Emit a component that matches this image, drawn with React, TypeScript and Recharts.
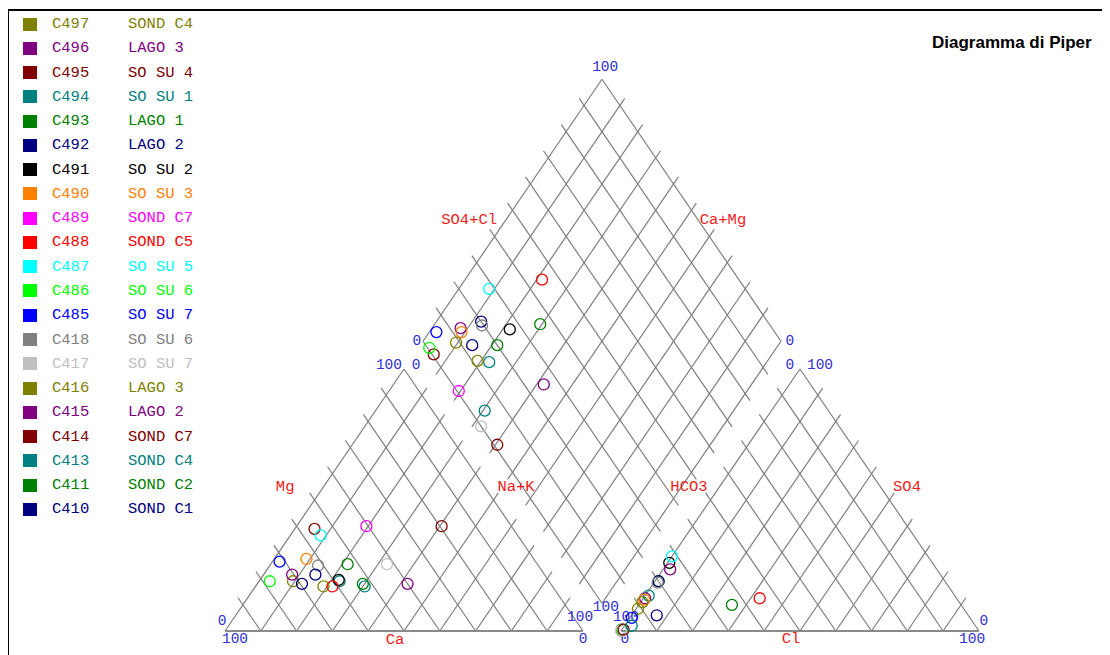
import React from "react";
import { ScatterChart, Scatter, XAxis, YAxis, ReferenceLine } from "recharts";

const samples = ["C497", "C496", "C495", "C494", "C493", "C492", "C491", "C490", "C489", "C488", "C487", "C486", "C485", "C418", "C417", "C416", "C415", "C414", "C413", "C411", "C410"];
const sites = ["SOND C4", "LAGO 3", "SO SU 4", "SO SU 1", "LAGO 1", "LAGO 2", "SO SU 2", "SO SU 3", "SOND C7", "SOND C5", "SO SU 5", "SO SU 6", "SO SU 7", "SO SU 6", "SO SU 7", "LAGO 3", "LAGO 2", "SOND C7", "SOND C4", "SOND C2", "SOND C1"];
const colors = ["#808000", "#800080", "#800000", "#008080", "#008000", "#000080", "#000000", "#ff8000", "#ff00ff", "#ff0000", "#00ffff", "#00ff00", "#0000ff", "#808080", "#c0c0c0", "#808000", "#800080", "#800000", "#008080", "#008000", "#000080"];

// cations (% meq)
const ca = [71.5, 70.5, 55.5, 58.5, 53, 69.5, 58.5, 63.5, 40.5, 61.5, 55, 78, 71.5, 61.5, 42, 64, 40, 19.5, 52.5, 52.5, 64];
const mg = [19, 21.5, 39, 19, 25.5, 18, 19.5, 27.5, 40, 17, 36.5, 19, 26.5, 25, 25.5, 17, 18, 40, 17, 18, 21.5];
const nak = [9.5, 8, 5.5, 22.5, 21.5, 12.5, 22, 9, 19.5, 21.5, 8.5, 3, 2, 13.5, 32.5, 19, 42, 40.5, 30.5, 29.5, 14.5];
// anions (% meq)
const hco3 = [91, 87, 99.5, 85.5, 80, 80, 73.5, 87.5, 99.5, 55, 71.5, 99.5, 94.5, 80.5, 100, 88.5, 74.5, 99, 96, 64, 87];
const so4 = [8.5, 12.5, 0.5, 13.5, 19, 19, 26, 12, 0.5, 12.5, 28.5, 0.5, 5, 18.5, 0, 11, 23.5, 0.5, 2, 10, 6];
const cl = [0.5, 0.5, 0, 1, 1, 1, 0.5, 0.5, 0, 32.5, 0, 0, 0.5, 1, 0, 0.5, 2, 0.5, 2, 26, 7];

type Pt = { x: number; y: number };

// plot geometry: triangle side 100, gap between the two triangles
const SIDE = 100;
const TH = (SIDE * Math.sqrt(3)) / 2;
const GAP = 10.6;
const X2 = SIDE + GAP;
const BOT: Pt = { x: SIDE + GAP / 2, y: (GAP / 2) * Math.sqrt(3) };
const U: Pt = { x: -SIDE / 2, y: TH };
const V: Pt = { x: SIDE / 2, y: TH };
const LEFT: Pt = { x: BOT.x + U.x, y: BOT.y + U.y };
const TOP: Pt = { x: BOT.x + U.x + V.x, y: BOT.y + U.y + V.y };
const RIGHT: Pt = { x: BOT.x + V.x, y: BOT.y + V.y };

const X_DOMAIN = [-60.615, 247.207];
const Y_DOMAIN = [-7.93, 205.93];

const lerp = (a: Pt, b: Pt, t: number): Pt => ({ x: a.x + (b.x - a.x) * t, y: a.y + (b.y - a.y) * t });
const add = (a: Pt, b: Pt): Pt => ({ x: a.x + b.x, y: a.y + b.y });

const STUB = 2.7;
// segment with small tick stubs beyond the edge at the chosen ends
function seg(a: Pt, b: Pt, extA: boolean, extB: boolean): [Pt, Pt] {
  const dx = b.x - a.x, dy = b.y - a.y;
  const len = Math.hypot(dx, dy);
  const ux = (dx / len) * STUB, uy = (dy / len) * STUB;
  return [
    extA ? { x: a.x - ux, y: a.y - uy } : a,
    extB ? { x: b.x + ux, y: b.y + uy } : b,
  ];
}

function triangleGrid(o: number): [Pt, Pt][] {
  const p0 = { x: o, y: 0 }, p1 = { x: o + SIDE, y: 0 }, p2 = { x: o + SIDE / 2, y: TH };
  const out: [Pt, Pt][] = [];
  for (let k = 1; k < 10; k++) {
    const f = k / 10;
    out.push(seg(lerp(p0, p1, f), lerp(p2, p1, f), false, true));
    out.push(seg(lerp(p1, p0, f), lerp(p2, p0, f), false, true));
  }
  out.push([p1, p2], [p2, p0]);
  return out;
}

function diamondGrid(): [Pt, Pt][] {
  const out: [Pt, Pt][] = [];
  for (let k = 1; k < 10; k++) {
    const f = k / 10;
    const a = lerp(BOT, LEFT, f);
    out.push(seg(a, add(a, V), true, true));
    const b = lerp(BOT, RIGHT, f);
    out.push(seg(b, add(b, U), true, true));
  }
  out.push([BOT, LEFT], [LEFT, TOP], [TOP, RIGHT], [RIGHT, BOT]);
  return out;
}

const gridLines = [...triangleGrid(0), ...triangleGrid(X2), ...diamondGrid()];
const baseLines: [Pt, Pt][] = [
  [{ x: 0, y: 0 }, { x: SIDE, y: 0 }],
  [{ x: X2, y: 0 }, { x: X2 + SIDE, y: 0 }],
];

const cationPt = (i: number): Pt => {
  const t = ca[i] + mg[i] + nak[i];
  return { x: ((nak[i] + mg[i] / 2) / t) * SIDE, y: (mg[i] / t) * TH };
};
const anionPt = (i: number): Pt => {
  const t = hco3[i] + so4[i] + cl[i];
  return { x: X2 + ((cl[i] + so4[i] / 2) / t) * SIDE, y: (so4[i] / t) * TH };
};
const diamondPt = (i: number): Pt => {
  const n = nak[i] / (ca[i] + mg[i] + nak[i]);
  const s = (so4[i] + cl[i]) / (hco3[i] + so4[i] + cl[i]);
  return { x: BOT.x + (1 - n) * U.x + s * V.x, y: BOT.y + (1 - n) * U.y + s * V.y };
};

const axisNames = [
  { x: 68.2, y: 135.9, text: "SO4+Cl" },
  { x: 139.1, y: 135.9, text: "Ca+Mg" },
  { x: 16.8, y: 47.6, text: "Mg" },
  { x: 81.3, y: 47.6, text: "Na+K" },
  { x: 47.5, y: -3.0, text: "Ca" },
  { x: 129.6, y: 47.6, text: "HCO3" },
  { x: 190.5, y: 47.6, text: "SO4" },
  { x: 158.1, y: -2.6, text: "Cl" },
];

const scaleLabels = [
  { x: 106.2, y: 186.5, text: "100" },
  { x: 53.6, y: 95.9, text: "0" },
  { x: 157.8, y: 95.9, text: "0" },
  { x: 45.8, y: 87.9, text: "100" },
  { x: 53.4, y: 87.9, text: "0" },
  { x: 157.8, y: 87.9, text: "0" },
  { x: 166.2, y: 87.9, text: "100" },
  { x: -0.8, y: 3.3, text: "0" },
  { x: 2.8, y: -2.6, text: "100" },
  { x: 99.2, y: 4.6, text: "100" },
  { x: 100.0, y: -2.6, text: "0" },
  { x: 106.4, y: 7.9, text: "100" },
  { x: 112.0, y: 4.6, text: "100" },
  { x: 111.7, y: -2.6, text: "0" },
  { x: 212.0, y: 3.3, text: "0" },
  { x: 208.7, y: -2.6, text: "100" },
];

const MONO = "'Liberation Mono', 'DejaVu Sans Mono', monospace";

const textShape = (fill: string, size: number) => (p: any) => (
  <text x={p.cx} y={p.cy} textAnchor="middle" dominantBaseline="central" fill={fill} fontSize={size} fontFamily={MONO}>
    {p.payload?.text ?? p.text}
  </text>
);

export default function App() {
  return (
    <div style={{ position: "relative", width: 1102, height: 647 }}>
      <style>{"html,body{overflow:hidden}"}</style>
      <div style={{ position: "absolute", left: -1, top: 1, width: 1200, height: 700, borderTop: "2px solid #000", borderLeft: "2px solid #000" }} />

      {samples.map((id, i) => (
        <div key={id} style={{ position: "absolute", left: 0, top: 4 + i * 24.27, height: 24, width: 220, fontFamily: MONO, fontSize: 15.5, color: colors[i] }}>
          <div style={{ position: "absolute", left: 15, top: 5.5, width: 14, height: 13, background: colors[i] }} />
          <div style={{ position: "absolute", left: 44, top: 0, lineHeight: "24px" }}>{id}</div>
          <div style={{ position: "absolute", left: 120, top: 0, lineHeight: "24px", whiteSpace: "pre" }}>{sites[i]}</div>
        </div>
      ))}

      <div style={{ position: "absolute", left: 924, top: 26, fontFamily: "'Liberation Sans', Arial, sans-serif", fontWeight: "bold", fontSize: 17, lineHeight: "17px", whiteSpace: "nowrap" }}>
        Diagramma di Piper
      </div>

      <div style={{ position: "absolute", left: 0, top: 0 }}>
        <ScatterChart width={1102} height={647} margin={{ top: 0, right: 0, bottom: 0, left: 0 }}>
          <XAxis type="number" dataKey="x" domain={X_DOMAIN} allowDataOverflow hide />
          <YAxis type="number" dataKey="y" domain={Y_DOMAIN} allowDataOverflow hide />
          {gridLines.map((s, k) => (
            <ReferenceLine key={"g" + k} segment={s} stroke="#7e7e7e" strokeWidth={1.2} ifOverflow="visible" />
          ))}
          {baseLines.map((s, k) => (
            <ReferenceLine key={"b" + k} segment={s} stroke="#8a8a8a" strokeWidth={2} ifOverflow="visible" />
          ))}
          <Scatter data={axisNames} isAnimationActive={false} shape={textShape("#f01c1c", 15.5)} />
          <Scatter data={scaleLabels} isAnimationActive={false} shape={textShape("#2f2fd6", 14.5)} />
          {samples.map((id, i) => (
            <Scatter
              key={id}
              name={id}
              data={[cationPt(i), anionPt(i), diamondPt(i)]}
              isAnimationActive={false}
              shape={(p: any) => <circle cx={p.cx} cy={p.cy} r={5.5} fill="none" stroke={colors[i]} strokeWidth={1.3} />}
            />
          ))}
        </ScatterChart>
      </div>
    </div>
  );
}
